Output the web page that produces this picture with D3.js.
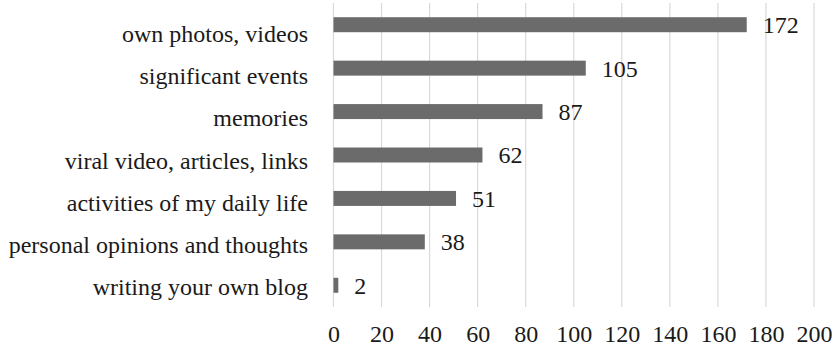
<!DOCTYPE html>
<html>
<head>
<meta charset="utf-8">
<script src="https://cdn.jsdelivr.net/npm/d3@7/dist/d3.min.js"></script>
<style>
  html, body { margin: 0; padding: 0; background: #fff; }
  svg { display: block; }
  text { font-family: "Liberation Serif", "Times New Roman", serif; fill: #1a1a1a; }
</style>
</head>
<body>
<svg id="chart" width="832" height="346"></svg>
<script>
// Post content categories and the number of answers for each
const categories = [
  "own photos, videos",
  "significant events",
  "memories",
  "viral video, articles, links",
  "activities of my daily life",
  "personal opinions and thoughts",
  "writing your own blog"
];
const counts = [172, 105, 87, 62, 51, 38, 2];
const xTicks = [0, 20, 40, 60, 80, 100, 120, 140, 160, 180, 200];

const svg = d3.select("#chart");
const fontSize = 24;

const x = d3.scaleLinear().domain([0, 200]).range([333.5, 814]);
const y = d3.scaleBand().domain(categories).range([3, 307])
  .paddingInner(0.655).paddingOuter(0.3275);
// category labels sit on their own slightly tighter spacing
const yLabel = d3.scalePoint().domain(categories).range([36, 289]);

// vertical gridlines
svg.append("g").selectAll("line").data(xTicks).join("line")
  .attr("x1", d => x(d)).attr("x2", d => x(d))
  .attr("y1", 3).attr("y2", 307)
  .attr("stroke", "#d9d9d9").attr("stroke-width", 1.2);

// bars
svg.append("g").selectAll("rect").data(categories).join("rect")
  .attr("x", x(0))
  .attr("y", c => y(c))
  .attr("width", (c, i) => x(counts[i]) - x(0))
  .attr("height", y.bandwidth())
  .attr("fill", "#6b6b6b");

// value labels
svg.append("g").selectAll("text").data(categories).join("text")
  .attr("x", (c, i) => x(counts[i]) + 16)
  .attr("y", c => y(c) + y.bandwidth() / 2)
  .attr("dy", "0.35em")
  .style("font-size", fontSize + "px")
  .text((c, i) => counts[i]);

// category axis
const yAxis = svg.append("g")
  .attr("transform", "translate(308,0)")
  .call(d3.axisLeft(yLabel).tickSize(0).tickPadding(0));
yAxis.select(".domain").remove();
yAxis.selectAll("text")
  .attr("x", 0).attr("dy", (0.23 * fontSize) + "px")
  .attr("fill", "#1a1a1a")
  .style("font-size", fontSize + "px")
  .style("font-family", '"Liberation Serif", "Times New Roman", serif');

// value axis
const xAxis = svg.append("g")
  .attr("transform", "translate(0,342)")
  .call(d3.axisBottom(x).tickValues(xTicks).tickSize(0).tickPadding(0));
xAxis.select(".domain").remove();
xAxis.selectAll("text")
  .attr("y", 0).attr("dy", 0)
  .attr("fill", "#1a1a1a")
  .style("font-size", fontSize + "px")
  .style("font-family", '"Liberation Serif", "Times New Roman", serif');
</script>
</body>
</html>
